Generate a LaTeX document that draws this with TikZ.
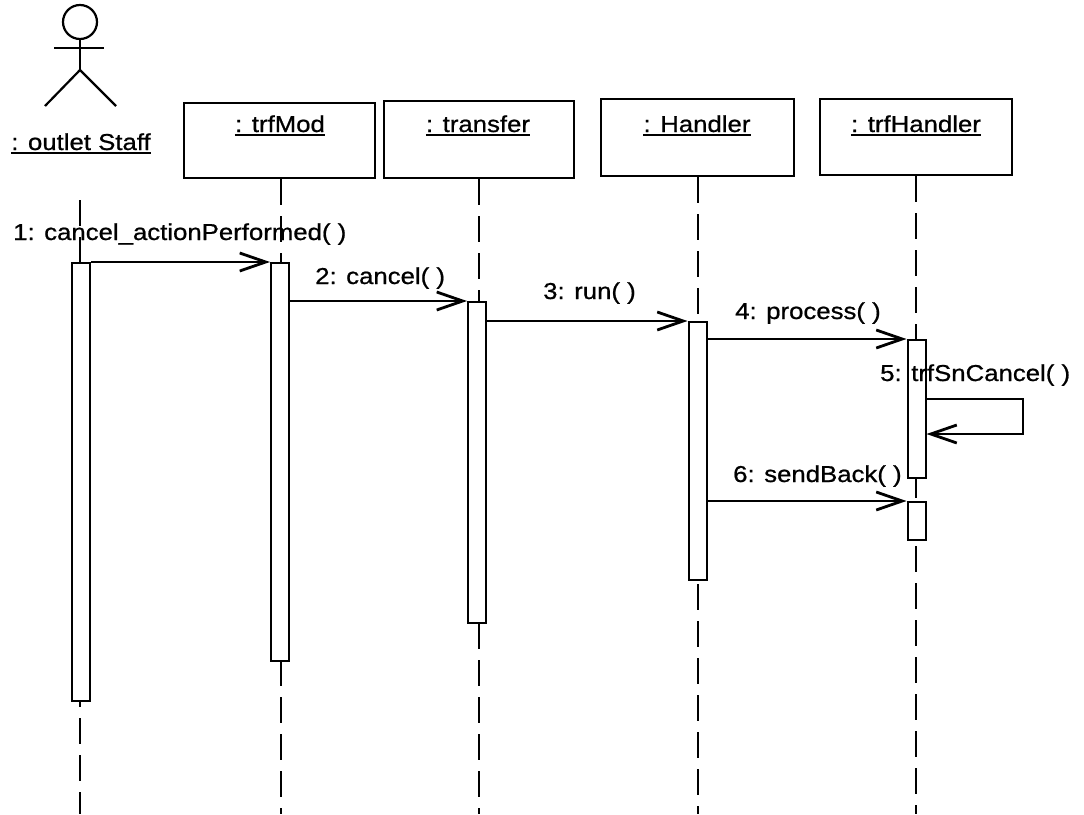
\documentclass[tikz,border=0pt]{standalone}
\usepackage{fontspec}
\setmainfont{Liberation Sans}[FakeStretch=1.12,FakeBold=0.8]
\usetikzlibrary{arrows.meta}
\begin{document}
\begin{tikzpicture}[x=1pt,y=-1pt,
  txt/.style={inner sep=0pt, font=\fontsize{23}{27}\selectfont},
  objbox/.style={draw, line width=2.2pt, anchor=north west, inner sep=0pt},
  act/.style={draw, fill=white, line width=2pt, anchor=north, minimum width=18pt, inner sep=0pt},
  life/.style={line width=2.2pt, dash pattern=on 26pt off 11pt},
  msg/.style={line width=2.2pt, -{Straight Barb[length=26pt,width=18pt,line width=2.8pt]}},
  ulstyle/.style={line width=2pt},
  stick/.style={line width=2.2pt}]
\useasboundingbox (0,0) rectangle (1084,814);

% actor
\draw[stick] (80,22) circle (17pt);
\draw[stick] (80,39) -- (80,70);
\draw[stick] (54,48) -- (104,48);
\draw[stick] (45,106) -- (80,70) -- (116,106);
\node[txt, anchor=base] (staff) at (81,150) {: outlet Staff};
\draw[ulstyle] ([yshift=-3pt]staff.base west) -- ([yshift=-3pt]staff.base east);

% object boxes
\node[objbox, minimum width=191pt, minimum height=75pt] (mod) at (183,102) {};
\node[objbox, minimum width=190pt, minimum height=77pt] (tra) at (383,100) {};
\node[objbox, minimum width=193pt, minimum height=77pt] (han) at (600,98) {};
\node[objbox, minimum width=192pt, minimum height=76pt] (trh) at (819,98) {};

\node[txt, anchor=base] (modt) at (280,132) {: trfMod};
\node[txt, anchor=base] (trat) at (478,132) {: transfer};
\node[txt, anchor=base] (hant) at (697,132) {: Handler};
\node[txt, anchor=base] (trht) at (916,132) {: trfHandler};
\foreach \n in {modt,trat,hant,trht}
  \draw[ulstyle] ([yshift=-3pt]\n.base west) -- ([yshift=-3pt]\n.base east);

% lifelines
\coordinate (staffTop) at (80,200);
\coordinate (bot) at (80,814);
\draw[life] (staffTop) -- (bot);
\draw[life] (mod.south) ++(1,0) -- ([xshift=1pt]mod.south |- bot);
\draw[life] (tra.south) -- (tra.south |- bot);
\draw[life] (han.south) -- (han.south |- bot);
\draw[life] (trh.south) -- (trh.south |- bot);

% activations
\node[act, minimum height=438pt] (sA) at (81,262) {};
\node[act, minimum height=398pt] (mA) at (280,262) {};
\node[act, minimum height=321pt] (tA) at (477,301) {};
\node[act, minimum height=258pt] (hA) at (697.5,321) {};
\node[act, minimum height=138pt] (rA) at (916.5,339) {};
\node[act, minimum height=38pt] (rB) at (916.5,501) {};

% messages
\draw[msg] (sA.north east) -- (mA.north west);
\node[txt, anchor=base west] (m1) at (13,240) {1: cancel\_actionPerformed( )};

\draw[msg] (mA.east |- tA.north) -- (tA.north west);
\node[txt, anchor=base west] (m2) at (315,284) {2: cancel( )};

\draw[msg] (tA.east |- hA.north) -- (hA.north west);
\node[txt, anchor=base west] (m3) at (543,299) {3: run( )};

\draw[msg] (hA.east |- rA.north) -- (rA.north west);
\node[txt, anchor=base west] (m4) at (735,319) {4: process( )};

\coordinate (s5a) at (1023,399);
\coordinate (s5b) at (1023,434);
\draw[msg] (rA.east |- s5a) -- (s5a) -- (s5b) -- (rA.east |- s5b);
\node[txt, anchor=base west] (m5) at (880,381) {5: trfSnCancel( )};

\draw[msg] (hA.east |- rB.north) -- (rB.north west);
\node[txt, anchor=base west] (m6) at (733,482) {6: sendBack( )};
\end{tikzpicture}
\end{document}
